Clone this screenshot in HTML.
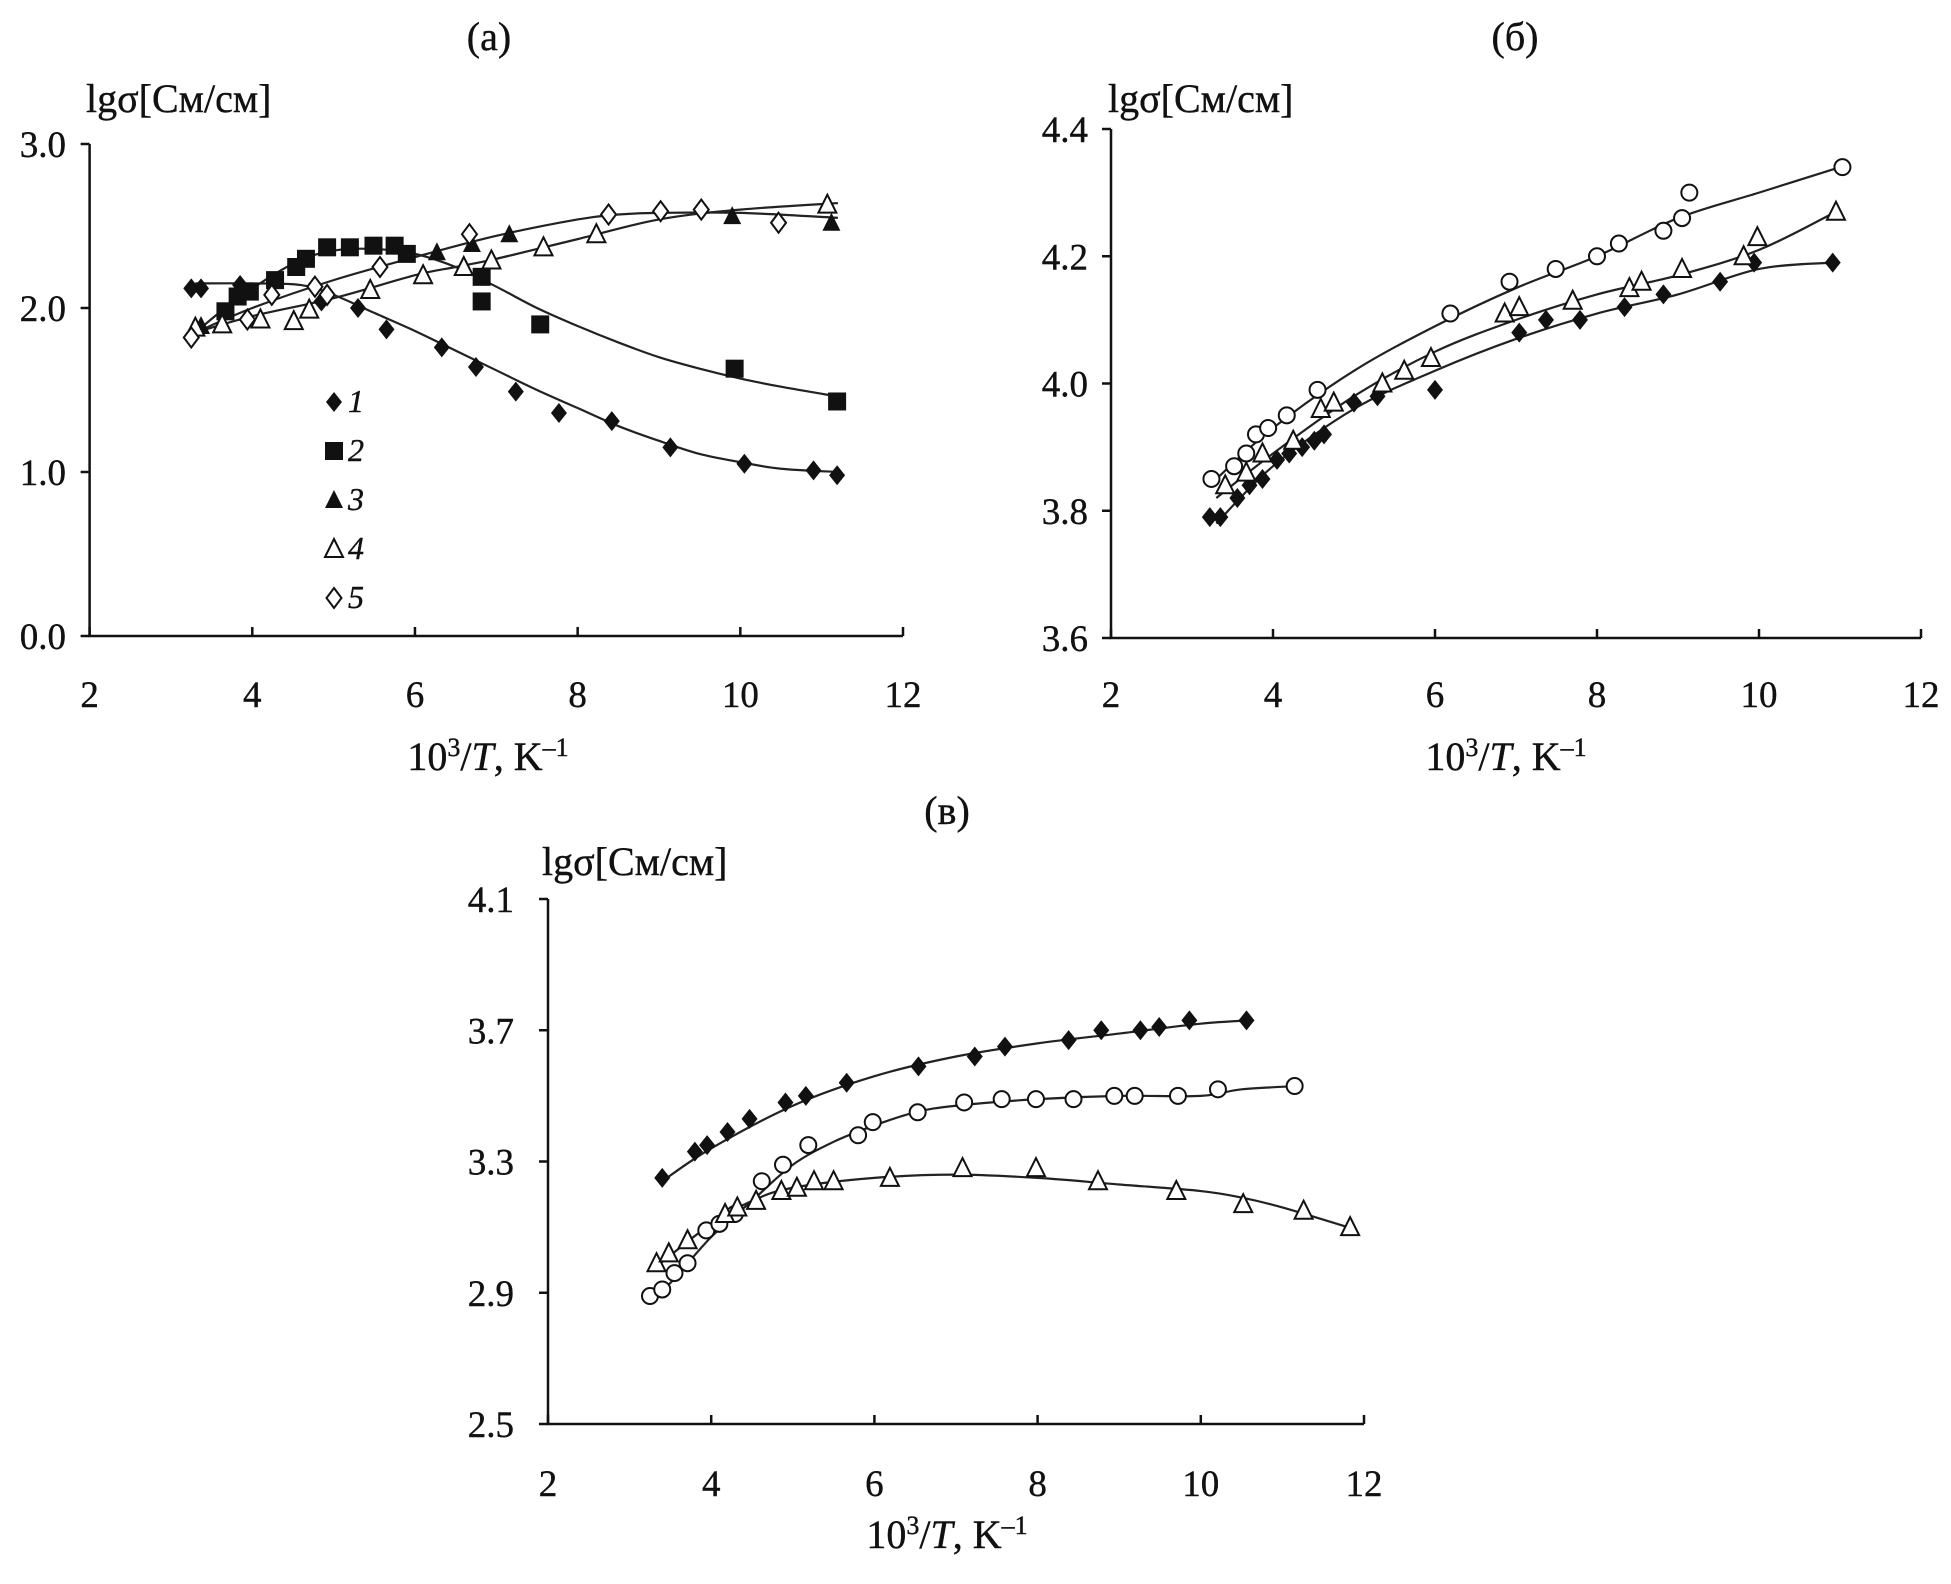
<!DOCTYPE html>
<html><head><meta charset="utf-8">
<style>
html,body{margin:0;padding:0;background:#fff;}
svg{display:block;}
text{font-family:"Liberation Serif","DejaVu Serif",serif;fill:#111;stroke:#111;stroke-width:0.4;}
</style></head>
<body>
<svg id="fig" width="1951" height="1584" viewBox="0 0 1951 1584" xmlns="http://www.w3.org/2000/svg">
<g id="pa"></g>
<g id="pb"></g>
<g id="pc"></g>
</svg>
<script>
// ===== Panel (a) data =====
const aS1x=[3.25,3.37,3.85,4.85,5.3,5.65,6.33,6.75,7.24,7.77,8.42,9.14,10.05,10.9,11.19];
const aS1y=[2.12,2.12,2.14,2.04,2.0,1.87,1.76,1.64,1.49,1.36,1.31,1.15,1.05,1.01,0.98];
const aF1x=[3.3,4.0,4.6,5.0,5.5,6.0,6.5,7.0,7.5,8.0,8.5,9.0,9.5,10.0,10.5,11.2];
const aF1y=[2.15,2.15,2.14,2.08,1.97,1.86,1.74,1.62,1.5,1.39,1.28,1.19,1.11,1.06,1.02,1.0];
const aS2x=[3.67,3.82,3.97,4.28,4.54,4.66,4.92,5.2,5.49,5.75,5.9,6.82,6.82,7.54,9.93,11.19];
const aS2y=[1.98,2.07,2.1,2.17,2.25,2.3,2.37,2.37,2.38,2.38,2.33,2.19,2.04,1.9,1.63,1.43];
const aF2x=[3.3,3.8,4.5,5.0,5.5,6.0,6.5,7.0,7.5,8.0,8.5,9.0,9.5,10.0,10.5,11.2];
const aF2y=[1.85,2.05,2.27,2.35,2.36,2.33,2.25,2.13,2.0,1.89,1.79,1.7,1.63,1.57,1.52,1.46];
const aS3x=[3.37,3.63,6.27,6.7,7.16,9.9,11.12];
const aS3y=[1.89,1.9,2.34,2.39,2.45,2.56,2.52];
const aF3x=[3.3,4.0,5.0,6.0,7.0,8.0,8.5,9.0,10.0,11.2];
const aF3y=[1.85,2.0,2.17,2.31,2.44,2.54,2.57,2.58,2.58,2.55];
const aS4x=[3.3,3.63,4.1,4.51,4.7,5.45,6.1,6.6,6.94,7.58,8.23,11.07];
const aS4y=[1.88,1.9,1.93,1.92,1.99,2.11,2.2,2.25,2.29,2.37,2.45,2.63];
const aF4x=[3.3,4.0,5.0,6.0,6.5,7.0,8.0,9.0,10.0,11.2];
const aF4y=[1.85,1.95,2.06,2.2,2.25,2.3,2.42,2.54,2.6,2.64];
const aS5x=[3.25,3.94,4.24,4.77,4.92,5.57,6.67,8.38,9.02,9.52,10.47];
const aS5y=[1.82,1.93,2.08,2.13,2.08,2.25,2.45,2.57,2.59,2.6,2.52];
const aYTicks=[0.0,1.0,2.0,3.0];
const aYLabels=["0.0","1.0","2.0","3.0"];
const xTicks=[2,4,6,8,10,12];
const xLabels=["2","4","6","8","10","12"];
const legendNames=["1","2","3","4","5"];
// ===== Panel (б) data =====
const bS1x=[3.22,3.35,3.56,3.71,3.87,4.05,4.2,4.36,4.51,4.63,5.0,5.29,6.0,7.04,7.37,7.79,8.34,8.82,9.52,9.94,10.91];
const bS1y=[3.79,3.79,3.82,3.84,3.85,3.88,3.89,3.9,3.91,3.92,3.97,3.98,3.99,4.08,4.1,4.1,4.12,4.14,4.16,4.19,4.19];
const bF1x=[3.3,4.0,5.0,6.0,7.0,8.0,9.0,10.0,10.9];
const bF1y=[3.78,3.87,3.96,4.02,4.07,4.11,4.14,4.18,4.19];
const bS2x=[3.41,3.67,3.87,4.25,4.59,4.75,5.35,5.62,5.95,6.86,7.04,7.7,8.4,8.55,9.05,9.81,9.98,10.95];
const bS2y=[3.84,3.86,3.89,3.91,3.96,3.97,4.0,4.02,4.04,4.11,4.12,4.13,4.15,4.16,4.18,4.2,4.23,4.27];
const bF2x=[3.3,4.0,5.0,6.0,7.0,8.0,9.0,10.0,10.95];
const bF2y=[3.82,3.89,3.98,4.05,4.1,4.14,4.17,4.21,4.27];
const bS3x=[3.24,3.52,3.67,3.79,3.94,4.17,4.55,6.19,6.92,7.49,8.0,8.27,8.82,9.05,9.14,11.03];
const bS3y=[3.85,3.87,3.89,3.92,3.93,3.95,3.99,4.11,4.16,4.18,4.2,4.22,4.24,4.26,4.3,4.34];
const bF3x=[3.3,4.0,5.0,6.0,7.0,8.0,9.0,10.0,11.0];
const bF3y=[3.85,3.93,4.02,4.09,4.15,4.2,4.26,4.3,4.34];
const bYTicks=[3.6,3.8,4.0,4.2,4.4];
const bYLabels=["3.6","3.8","4.0","4.2","4.4"];
// ===== Panel (в) data =====
const cS1x=[3.4,3.8,3.95,4.2,4.47,4.91,5.16,5.66,6.54,7.23,7.6,8.38,8.78,9.26,9.49,9.86,10.56];
const cS1y=[3.25,3.33,3.35,3.39,3.43,3.48,3.5,3.54,3.59,3.62,3.65,3.67,3.7,3.7,3.71,3.73,3.73];
const cF1x=[3.4,4.0,5.0,6.0,7.0,8.0,9.0,10.0,10.6];
const cF1y=[3.24,3.34,3.47,3.56,3.62,3.66,3.69,3.72,3.73];
const cS2x=[3.25,3.4,3.55,3.71,3.94,4.1,4.29,4.62,4.88,5.19,5.8,5.98,6.53,7.1,7.56,7.98,8.44,8.94,9.19,9.72,10.21,11.15];
const cS2y=[2.89,2.91,2.96,2.99,3.09,3.11,3.14,3.24,3.29,3.35,3.38,3.42,3.45,3.48,3.49,3.49,3.49,3.5,3.5,3.5,3.52,3.53];
const cF2x=[3.25,3.5,4.0,4.5,5.0,5.5,6.0,6.5,7.0,8.0,9.0,10.0,10.5,11.2];
const cF2y=[2.88,2.93,3.07,3.18,3.29,3.36,3.41,3.45,3.47,3.49,3.5,3.5,3.52,3.53];
const cS3x=[3.33,3.48,3.71,4.17,4.32,4.55,4.86,5.05,5.26,5.5,6.19,7.08,7.98,8.74,9.7,10.52,11.26,11.83];
const cS3y=[2.99,3.02,3.06,3.14,3.16,3.18,3.21,3.22,3.24,3.24,3.25,3.28,3.28,3.24,3.21,3.17,3.15,3.1];
const cF3x=[3.33,4.0,4.5,5.0,6.0,7.0,8.0,9.0,10.0,10.5,11.0,11.8];
const cF3y=[2.98,3.11,3.18,3.22,3.25,3.26,3.25,3.23,3.21,3.19,3.16,3.1];
const cYTicks=[2.5,2.9,3.3,3.7,4.1];
const cYLabels=["2.5","2.9","3.3","3.7","4.1"];

const NS="http://www.w3.org/2000/svg";
function mk(tag,parent,attrs){const e=document.createElementNS(NS,tag);for(const k in attrs)e.setAttribute(k,attrs[k]);parent.appendChild(e);return e;}

function panel(g,cfg){
  const sx=v=>cfg.x0+(v-cfg.xmin)/(cfg.xmax-cfg.xmin)*(cfg.x1-cfg.x0);
  const sy=v=>cfg.y0-(v-cfg.ymin)/(cfg.ymax-cfg.ymin)*(cfg.y0-cfg.y1);
  const t=mk('text',g,{x:cfg.titleX,y:cfg.titleY,'font-size':40,'text-anchor':'middle'});
  t.textContent=cfg.title;
  
  
  const yt=mk('text',g,{x:cfg.ytX,y:cfg.ytY,'font-size':40});
  yt.textContent='lgσ[См/см]';
  
  
  const xt=mk('text',g,{x:cfg.xtX,y:cfg.xtY,'font-size':40,'text-anchor':'middle'});
  xt.innerHTML='10<tspan dy="-14" font-size="26">3</tspan><tspan dy="14">/</tspan><tspan font-style="italic">T</tspan>, K<tspan dy="-14" font-size="26">–1</tspan>';
  
  
  const ax=mk('path',g,{d:`M${cfg.x0},${cfg.y1}V${cfg.y0}H${cfg.x1}`,fill:'none',stroke:'#111','stroke-width':2.5});
  
  
  xTicks.forEach((v,i)=>{
    const tk=mk('line',g,{x1:sx(v),x2:sx(v),y1:cfg.y0,y2:cfg.y0-9,stroke:'#111','stroke-width':2.5});
    
    
    const tl=mk('text',g,{x:sx(v),y:cfg.xlY,'font-size':37,'text-anchor':'middle'});
    tl.textContent=xLabels[i];
    
    
  });
  cfg.yTicks.forEach((v,i)=>{
    const tk=mk('line',g,{x1:cfg.x0-9,x2:cfg.x0,y1:sy(v),y2:sy(v),stroke:'#111','stroke-width':2.5});
    
    
    const tl=mk('text',g,{x:cfg.ylX,y:sy(v)+13,'font-size':37,'text-anchor':'end'});
    tl.textContent=cfg.yLabels[i];
    
    
  });
  cfg.fits.forEach(f=>{
    const P=f.x.map((v,i)=>[sx(v),sy(f.y[i])]);
    let d=`M${P[0][0]},${P[0][1]}`;
    for(let i=0;i<P.length-1;i++){
      const p0=P[i-1]||P[i],p1=P[i],p2=P[i+1],p3=P[i+2]||P[i+1];
      d+=`C${p1[0]+(p2[0]-p0[0])/6},${p1[1]+(p2[1]-p0[1])/6} ${p2[0]-(p3[0]-p1[0])/6},${p2[1]-(p3[1]-p1[1])/6} ${p2[0]},${p2[1]}`;
    }
    const c=mk('path',g,{d:d,fill:'none',stroke:'#222','stroke-width':2.2});
    
    
  });
  cfg.series.forEach(s=>{
    s.x.forEach((v,i)=>{
      const m=marker(g,s.m,sx(v),sy(s.y[i]));
      
      
    });
  });
}
function marker(g,type,x,y){
  const r=10;
  if(type==='fd')return mk('path',g,{d:`M${x},${y-r}L${x+r*0.8},${y}L${x},${y+r}L${x-r*0.8},${y}Z`,fill:'#111'});
  if(type==='od')return mk('path',g,{d:`M${x},${y-r}L${x+r*0.75},${y}L${x},${y+r}L${x-r*0.75},${y}Z`,fill:'#fff',stroke:'#111','stroke-width':2});
  if(type==='fs')return mk('rect',g,{x:x-9,y:y-9,width:18,height:18,fill:'#111'});
  if(type==='ft')return mk('path',g,{d:`M${x},${y-10}L${x+9},${y+8}L${x-9},${y+8}Z`,fill:'#111'});
  if(type==='ot')return mk('path',g,{d:`M${x},${y-10}L${x+9},${y+8}L${x-9},${y+8}Z`,fill:'#fff',stroke:'#111','stroke-width':2});
  if(type==='oc')return mk('circle',g,{cx:x,cy:y,r:8,fill:'#fff',stroke:'#111','stroke-width':2});
}

panel(document.getElementById('pa'),{x0:89.6,x1:903,xmin:2,xmax:12,y0:636,y1:144,ymin:0,ymax:3,
  title:'(а)',titleX:489,titleY:50,ytX:86,ytY:112,xtX:488,xtY:770,xlY:707,ylX:66,
  yTicks:aYTicks,yLabels:aYLabels,
  fits:[{x:aF1x,y:aF1y},{x:aF2x,y:aF2y},{x:aF3x,y:aF3y},{x:aF4x,y:aF4y}],
  series:[{x:aS1x,y:aS1y,m:'fd'},{x:aS2x,y:aS2y,m:'fs'},{x:aS3x,y:aS3y,m:'ft'},{x:aS4x,y:aS4y,m:'ot'},{x:aS5x,y:aS5y,m:'od'}]});
(function(){
  const g=document.getElementById('pa');
  const ms=['fd','fs','ft','ot','od'];
  legendNames.forEach((n,i)=>{
    const y=402+i*49;
    const m=marker(g,ms[i],334,y);
    
    
    const t=mk('text',g,{x:348,y:y+10,'font-size':32,'font-style':'italic'});
    t.textContent=n;
    
    
  });
})();
panel(document.getElementById('pb'),{x0:1111,x1:1921,xmin:2,xmax:12,y0:638,y1:129,ymin:3.6,ymax:4.4,
  title:'(б)',titleX:1515,titleY:50,ytX:1108,ytY:112,xtX:1506,xtY:770,xlY:707,ylX:1088,
  yTicks:bYTicks,yLabels:bYLabels,
  fits:[{x:bF1x,y:bF1y},{x:bF2x,y:bF2y},{x:bF3x,y:bF3y}],
  series:[{x:bS1x,y:bS1y,m:'fd'},{x:bS2x,y:bS2y,m:'ot'},{x:bS3x,y:bS3y,m:'oc'}]});
panel(document.getElementById('pc'),{x0:548,x1:1364,xmin:2,xmax:12,y0:1424,y1:899,ymin:2.5,ymax:4.1,
  title:'(в)',titleX:947,titleY:824,ytX:542,ytY:875,xtX:947,xtY:1548,xlY:1496,ylX:514,
  yTicks:cYTicks,yLabels:cYLabels,
  fits:[{x:cF1x,y:cF1y},{x:cF2x,y:cF2y},{x:cF3x,y:cF3y}],
  series:[{x:cS1x,y:cS1y,m:'fd'},{x:cS2x,y:cS2y,m:'oc'},{x:cS3x,y:cS3y,m:'ot'}]});
</script>
</body></html>
